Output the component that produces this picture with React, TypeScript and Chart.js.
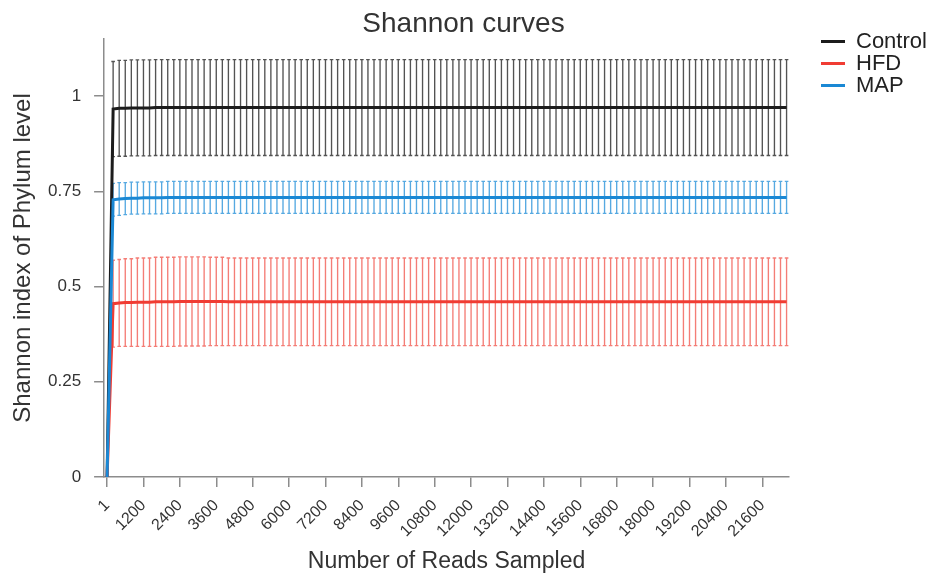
import { useEffect, useRef } from "react";
import { Chart, registerables } from "chart.js";

Chart.register(...registerables);

const FONT = "'Liberation Sans', Arial, Helvetica, sans-serif";

const SERIES_NAMES = ["Control", "HFD", "MAP"];
const SERIES_COLORS = ["#1c1c1c", "#f03c33", "#1a88d4"];
const BAR_COLORS = ["rgba(40,40,40,0.8)", "rgba(240,70,60,0.7)", "rgba(30,140,215,0.75)"];

const READS = [
  1, 200, 400, 600, 800, 1000, 1200, 1400, 1600, 1800,
  2000, 2200, 2400, 2600, 2800, 3000, 3200, 3400, 3600, 3800,
  4000, 4200, 4400, 4600, 4800, 5000, 5200, 5400, 5600, 5800,
  6000, 6200, 6400, 6600, 6800, 7000, 7200, 7400, 7600, 7800,
  8000, 8200, 8400, 8600, 8800, 9000, 9200, 9400, 9600, 9800,
  10000, 10200, 10400, 10600, 10800, 11000, 11200, 11400, 11600, 11800,
  12000, 12200, 12400, 12600, 12800, 13000, 13200, 13400, 13600, 13800,
  14000, 14200, 14400, 14600, 14800, 15000, 15200, 15400, 15600, 15800,
  16000, 16200, 16400, 16600, 16800, 17000, 17200, 17400, 17600, 17800,
  18000, 18200, 18400, 18600, 18800, 19000, 19200, 19400, 19600, 19800,
  20000, 20200, 20400, 20600, 20800, 21000, 21200, 21400, 21600, 21800,
  22000, 22200, 22400,
];

const CONTROL_MEAN = [
  0, 0.966, 0.968, 0.968, 0.969, 0.969, 0.969, 0.969, 0.97, 0.97,
  0.97, 0.97, 0.97, 0.97, 0.97, 0.97, 0.97, 0.97, 0.97, 0.97,
  0.97, 0.97, 0.97, 0.97, 0.97, 0.97, 0.97, 0.97, 0.97, 0.97,
  0.97, 0.97, 0.97, 0.97, 0.97, 0.97, 0.97, 0.97, 0.97, 0.97,
  0.97, 0.97, 0.97, 0.97, 0.97, 0.97, 0.97, 0.97, 0.97, 0.97,
  0.97, 0.97, 0.97, 0.97, 0.97, 0.97, 0.97, 0.97, 0.97, 0.97,
  0.97, 0.97, 0.97, 0.97, 0.97, 0.97, 0.97, 0.97, 0.97, 0.97,
  0.97, 0.97, 0.97, 0.97, 0.97, 0.97, 0.97, 0.97, 0.97, 0.97,
  0.97, 0.97, 0.97, 0.97, 0.97, 0.97, 0.97, 0.97, 0.97, 0.97,
  0.97, 0.97, 0.97, 0.97, 0.97, 0.97, 0.97, 0.97, 0.97, 0.97,
  0.97, 0.97, 0.97, 0.97, 0.97, 0.97, 0.97, 0.97, 0.97, 0.97,
  0.97, 0.97, 0.97,
];
const CONTROL_SD = [
  0, 0.125, 0.126, 0.126, 0.126, 0.126, 0.126, 0.126, 0.126, 0.126,
  0.126, 0.126, 0.126, 0.126, 0.126, 0.126, 0.126, 0.126, 0.126, 0.126,
  0.126, 0.126, 0.126, 0.126, 0.126, 0.126, 0.126, 0.126, 0.126, 0.126,
  0.126, 0.126, 0.126, 0.126, 0.126, 0.126, 0.126, 0.126, 0.126, 0.126,
  0.126, 0.126, 0.126, 0.126, 0.126, 0.126, 0.126, 0.126, 0.126, 0.126,
  0.126, 0.126, 0.126, 0.126, 0.126, 0.126, 0.126, 0.126, 0.126, 0.126,
  0.126, 0.126, 0.126, 0.126, 0.126, 0.126, 0.126, 0.126, 0.126, 0.126,
  0.126, 0.126, 0.126, 0.126, 0.126, 0.126, 0.126, 0.126, 0.126, 0.126,
  0.126, 0.126, 0.126, 0.126, 0.126, 0.126, 0.126, 0.126, 0.126, 0.126,
  0.126, 0.126, 0.126, 0.126, 0.126, 0.126, 0.126, 0.126, 0.126, 0.126,
  0.126, 0.126, 0.126, 0.126, 0.126, 0.126, 0.126, 0.126, 0.126, 0.126,
  0.126, 0.126, 0.126,
];

const HFD_MEAN = [
  0, 0.455, 0.457, 0.458, 0.458, 0.459, 0.459, 0.459, 0.46, 0.46,
  0.46, 0.46, 0.461, 0.461, 0.461, 0.461, 0.461, 0.461, 0.461, 0.461,
  0.46, 0.46, 0.46, 0.46, 0.46, 0.46, 0.46, 0.46, 0.46, 0.46,
  0.46, 0.46, 0.46, 0.46, 0.46, 0.46, 0.46, 0.46, 0.46, 0.46,
  0.46, 0.46, 0.46, 0.46, 0.46, 0.46, 0.46, 0.46, 0.46, 0.46,
  0.46, 0.46, 0.46, 0.46, 0.46, 0.46, 0.46, 0.46, 0.46, 0.46,
  0.46, 0.46, 0.46, 0.46, 0.46, 0.46, 0.46, 0.46, 0.46, 0.46,
  0.46, 0.46, 0.46, 0.46, 0.46, 0.46, 0.46, 0.46, 0.46, 0.46,
  0.46, 0.46, 0.46, 0.46, 0.46, 0.46, 0.46, 0.46, 0.46, 0.46,
  0.46, 0.46, 0.46, 0.46, 0.46, 0.46, 0.46, 0.46, 0.46, 0.46,
  0.46, 0.46, 0.46, 0.46, 0.46, 0.46, 0.46, 0.46, 0.46, 0.46,
  0.46, 0.46, 0.46,
];
const HFD_SD = [
  0, 0.114, 0.114, 0.115, 0.115, 0.116, 0.116, 0.116, 0.117, 0.117,
  0.117, 0.117, 0.117, 0.117, 0.117, 0.117, 0.117, 0.116, 0.116, 0.116,
  0.115, 0.115, 0.115, 0.115, 0.115, 0.115, 0.115, 0.115, 0.115, 0.115,
  0.115, 0.115, 0.115, 0.115, 0.115, 0.115, 0.115, 0.115, 0.115, 0.115,
  0.115, 0.115, 0.115, 0.115, 0.115, 0.115, 0.115, 0.115, 0.115, 0.115,
  0.115, 0.115, 0.115, 0.115, 0.115, 0.115, 0.115, 0.115, 0.115, 0.115,
  0.115, 0.115, 0.115, 0.115, 0.115, 0.115, 0.115, 0.115, 0.115, 0.115,
  0.115, 0.115, 0.115, 0.115, 0.115, 0.115, 0.115, 0.115, 0.115, 0.115,
  0.115, 0.115, 0.115, 0.115, 0.115, 0.115, 0.115, 0.115, 0.115, 0.115,
  0.115, 0.115, 0.115, 0.115, 0.115, 0.115, 0.115, 0.115, 0.115, 0.115,
  0.115, 0.115, 0.115, 0.115, 0.115, 0.115, 0.115, 0.115, 0.115, 0.115,
  0.115, 0.115, 0.115,
];

const MAP_MEAN = [
  0, 0.728, 0.73, 0.731, 0.732, 0.732, 0.733, 0.733, 0.733, 0.733,
  0.734, 0.734, 0.734, 0.734, 0.734, 0.734, 0.734, 0.734, 0.734, 0.734,
  0.734, 0.734, 0.734, 0.734, 0.734, 0.734, 0.734, 0.734, 0.734, 0.734,
  0.734, 0.734, 0.734, 0.734, 0.734, 0.734, 0.734, 0.734, 0.734, 0.734,
  0.734, 0.734, 0.734, 0.734, 0.734, 0.734, 0.734, 0.734, 0.734, 0.734,
  0.734, 0.734, 0.734, 0.734, 0.734, 0.734, 0.734, 0.734, 0.734, 0.734,
  0.734, 0.734, 0.734, 0.734, 0.734, 0.734, 0.734, 0.734, 0.734, 0.734,
  0.734, 0.734, 0.734, 0.734, 0.734, 0.734, 0.734, 0.734, 0.734, 0.734,
  0.734, 0.734, 0.734, 0.734, 0.734, 0.734, 0.734, 0.734, 0.734, 0.734,
  0.734, 0.734, 0.734, 0.734, 0.734, 0.734, 0.734, 0.734, 0.734, 0.734,
  0.734, 0.734, 0.734, 0.734, 0.734, 0.734, 0.734, 0.734, 0.734, 0.734,
  0.734, 0.734, 0.734,
];
const MAP_SD = [
  0, 0.043, 0.043, 0.042, 0.042, 0.042, 0.042, 0.042, 0.042, 0.042,
  0.042, 0.042, 0.042, 0.042, 0.042, 0.042, 0.042, 0.042, 0.042, 0.042,
  0.042, 0.042, 0.042, 0.042, 0.042, 0.042, 0.042, 0.042, 0.042, 0.042,
  0.042, 0.042, 0.042, 0.042, 0.042, 0.042, 0.042, 0.042, 0.042, 0.042,
  0.042, 0.042, 0.042, 0.042, 0.042, 0.042, 0.042, 0.042, 0.042, 0.042,
  0.042, 0.042, 0.042, 0.042, 0.042, 0.042, 0.042, 0.042, 0.042, 0.042,
  0.042, 0.042, 0.042, 0.042, 0.042, 0.042, 0.042, 0.042, 0.042, 0.042,
  0.042, 0.042, 0.042, 0.042, 0.042, 0.042, 0.042, 0.042, 0.042, 0.042,
  0.042, 0.042, 0.042, 0.042, 0.042, 0.042, 0.042, 0.042, 0.042, 0.042,
  0.042, 0.042, 0.042, 0.042, 0.042, 0.042, 0.042, 0.042, 0.042, 0.042,
  0.042, 0.042, 0.042, 0.042, 0.042, 0.042, 0.042, 0.042, 0.042, 0.042,
  0.042, 0.042, 0.042,
];

const X_TICKS = [
  1, 1200, 2400, 3600, 4800, 6000, 7200, 8400, 9600, 10800,
  12000, 13200, 14400, 15600, 16800, 18000, 19200, 20400, 21600,
];
const Y_TICKS = [0, 0.25, 0.5, 0.75, 1];

const MEANS = [CONTROL_MEAN, HFD_MEAN, MAP_MEAN];
const SDS = [CONTROL_SD, HFD_SD, MAP_SD];
const DRAW_ORDER = [2, 1, 0];

const AXIS_COLOR = "#8c8c8c";
const TEXT_COLOR = "#333333";

const errorBarPlugin = {
  id: "errorBars",
  beforeDatasetsDraw(chart: any) {
    const { ctx, chartArea, scales } = chart;
    const x = scales.x;
    const y = scales.y;
    ctx.save();
    ctx.beginPath();
    ctx.rect(chartArea.left, chartArea.top, chartArea.right - chartArea.left, chartArea.bottom - chartArea.top);
    ctx.clip();
    chart.data.datasets.forEach((ds: any) => {
      const sd: number[] = ds.sd;
      ctx.strokeStyle = ds.barColor;
      ctx.lineWidth = 1.35;
      ctx.beginPath();
      ds.data.forEach((pt: any, i: number) => {
        const e = sd[i];
        if (!e) return;
        const px = x.getPixelForValue(pt.x);
        const top = y.getPixelForValue(pt.y + e);
        const bot = y.getPixelForValue(pt.y - e);
        ctx.moveTo(px, top);
        ctx.lineTo(px, bot);
        ctx.moveTo(px - 1.8, top);
        ctx.lineTo(px + 1.8, top);
        ctx.moveTo(px - 1.8, bot);
        ctx.lineTo(px + 1.8, bot);
      });
      ctx.stroke();
    });
    ctx.restore();
  },
};

export default function App() {
  const canvasRef = useRef<HTMLCanvasElement | null>(null);

  useEffect(() => {
    document.body.style.margin = "0";
    const canvas = canvasRef.current;
    if (!canvas) return;

    const datasets = SERIES_NAMES.map((name, si) => ({
      label: name,
      data: READS.map((r, i) => ({ x: r, y: MEANS[si][i] })),
      sd: SDS[si],
      barColor: BAR_COLORS[si],
      borderColor: SERIES_COLORS[si],
      backgroundColor: SERIES_COLORS[si],
      borderWidth: 3,
      pointRadius: 0,
      pointHoverRadius: 0,
      tension: 0,
      fill: false,
      order: DRAW_ORDER[si],
    }));

    const chart = new Chart(canvas, {
      type: "line",
      data: { datasets },
      plugins: [errorBarPlugin],
      options: {
        responsive: false,
        animation: false,
        layout: { padding: { left: 0, right: 14, top: 0, bottom: 0 } },
        plugins: {
          tooltip: { enabled: false },
          title: {
            display: true,
            text: "Shannon curves",
            color: TEXT_COLOR,
            font: { family: FONT, size: 28, weight: "normal", lineHeight: 1 },
            padding: { top: 10, bottom: 1 },
          },
          legend: {
            display: true,
            position: "right",
            align: "start",
            maxWidth: 106,
            title: {
              display: true,
              text: " ",
              font: { family: FONT, size: 10, lineHeight: 1 },
              padding: { top: 0, bottom: 20.5 },
            },
            labels: {
              color: "#222222",
              font: { family: FONT, size: 22 },
              padding: 0,
              boxWidth: 24,
              boxHeight: 3,
              sort: (a: any, b: any) => a.datasetIndex - b.datasetIndex,
              generateLabels: (c: any) => {
                const items = (Chart as any).defaults.plugins.legend.labels.generateLabels(c);
                return items.map((it: any) => ({
                  ...it,
                  fillStyle: SERIES_COLORS[it.datasetIndex],
                  strokeStyle: SERIES_COLORS[it.datasetIndex],
                  lineWidth: 0,
                }));
              },
            },
          },
        },
        scales: {
          x: {
            type: "linear",
            min: -98,
            max: 22480,
            afterBuildTicks: (s: any) => {
              s.ticks = X_TICKS.map((v) => ({ value: v }));
            },
            ticks: {
              autoSkip: false,
              minRotation: 45,
              maxRotation: 45,
              color: TEXT_COLOR,
              font: { family: FONT, size: 16 },
              padding: 9,
              callback: (v: any) => String(v),
            },
            grid: {
              display: true,
              drawOnChartArea: false,
              drawTicks: true,
              tickLength: 10,
              color: AXIS_COLOR,
              lineWidth: 1.5,
            },
            border: { display: true, color: AXIS_COLOR, width: 1.5 },
            title: {
              display: true,
              text: "Number of Reads Sampled",
              color: TEXT_COLOR,
              font: { family: FONT, size: 23, lineHeight: 1 },
              padding: { top: 0, bottom: 0 },
            },
          },
          y: {
            type: "linear",
            min: 0,
            max: 1.15,
            afterBuildTicks: (s: any) => {
              s.ticks = Y_TICKS.map((v) => ({ value: v }));
            },
            ticks: {
              color: TEXT_COLOR,
              font: { family: FONT, size: 17 },
              padding: 13,
              callback: (v: any) => String(v),
            },
            grid: {
              display: true,
              drawOnChartArea: false,
              drawTicks: true,
              tickLength: 10,
              color: AXIS_COLOR,
              lineWidth: 1.5,
            },
            border: { display: true, color: AXIS_COLOR, width: 1.5 },
            title: {
              display: true,
              text: "Shannon index of Phylum level",
              color: TEXT_COLOR,
              font: { family: FONT, size: 24, lineHeight: 1 },
              padding: { top: 11, bottom: 0 },
            },
          },
          yPad: {
            type: "linear",
            position: "right",
            display: true,
            grid: { display: false, drawTicks: false },
            border: { display: false },
            ticks: { display: false },
            afterFit: (s: any) => {
              s.width = 32;
            },
          },
        },
      } as any,
    });

    return () => {
      chart.destroy();
    };
  }, []);

  return (
    <div style={{ width: 941, height: 573 }}>
      <canvas ref={canvasRef} width={941} height={573} style={{ display: "block" }} />
    </div>
  );
}
